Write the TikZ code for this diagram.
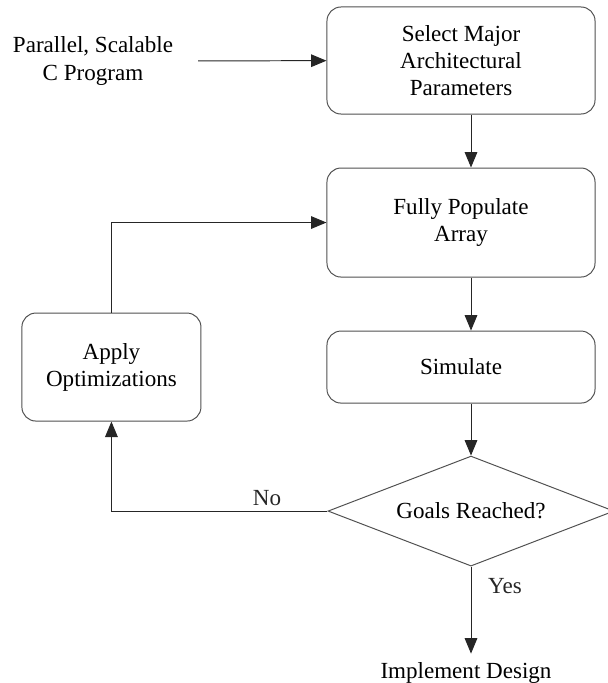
\documentclass[tikz,border=0pt]{standalone}
\usepackage{fontspec}
\setmainfont{Liberation Serif}
\usepackage{tikz}
\usetikzlibrary{shapes.geometric, arrows.meta, positioning}
\definecolor{edge-grey}{HTML}{505050}

\begin{document}
\begin{tikzpicture}[
  x=0.025cm, y=-0.025cm,
  node distance=1.325cm and 3.125cm,
  every node/.style={font=\fontsize{16.4}{19.3}\selectfont},
  box/.style={rectangle, rounded corners=10pt, draw=edge-grey, line width=0.7pt,
              minimum width=6.7cm, align=center},
  decision/.style={diamond, aspect=2.6, draw=edge-grey, line width=0.7pt, inner sep=0pt,
                   minimum width=7.15cm, minimum height=2.75cm},
  plain/.style={align=center},
  arr/.style={-{Triangle[width=9pt, length=11pt]}, line width=0.7pt, black!85}
]
  \useasboundingbox (0,0) rectangle (607,683);

  \node[plain] (input) at (93,61) {Parallel, Scalable\\C Program};
  \node[box, minimum height=2.675cm] (select) at (461,60.5)
       {Select Major\\Architectural\\Parameters};
  \node[box, minimum height=2.725cm, below=of select] (populate)
       {Fully Populate\\Array};
  \node[box, minimum height=1.8cm, below=of populate] (simulate) {Simulate};
  \node[box, minimum width=4.475cm, minimum height=2.7cm, left=of simulate] (apply)
       {Apply\\Optimizations};
  \node[decision, below=1.3cm of simulate, xshift=0.25cm] (goal) {Goals Reached?};
  \node[plain, inner ysep=6pt, below=2.175cm of goal.south, xshift=-0.125cm, anchor=north] (finish)
       {Implement Design};

  \draw[arr, shorten <=0.5cm] (input) -- (select);
  \draw[arr] (select.south -| goal.north) -- (populate.north -| goal.north);
  \draw[arr] (populate.south -| goal.north) -- (simulate.north -| goal.north);
  \draw[arr] (simulate.south -| goal.north) -- (goal.north);
  \draw[arr] (goal.south) -- node[right=0.3cm, pos=0.22] {Yes} (goal.south |- finish.north);

  % Feedback loop
  \draw[arr] (goal.west) -| node[above, pos=0.14] {No} (apply.south);
  \draw[arr] (apply.north) |- (populate.west);

\end{tikzpicture}
\end{document}
